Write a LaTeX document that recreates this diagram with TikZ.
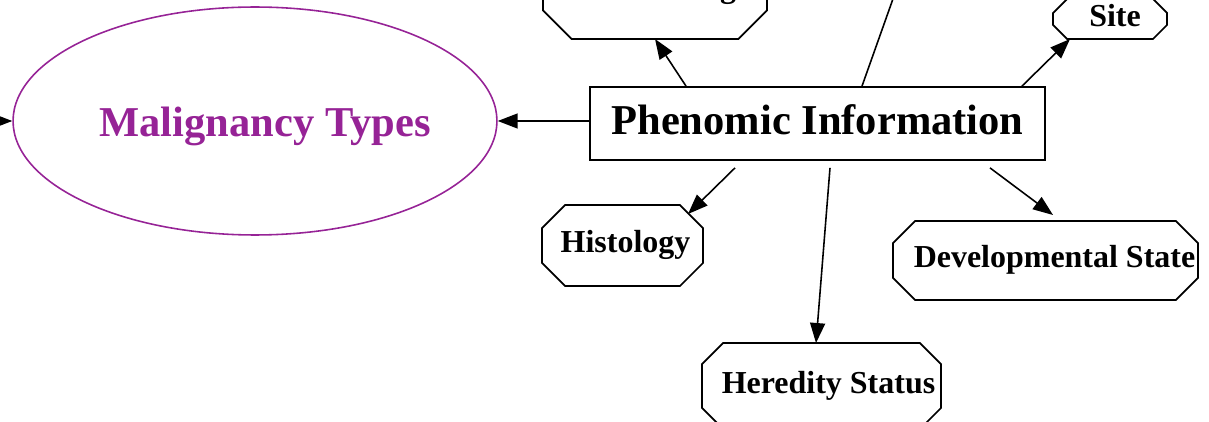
\documentclass[tikz,border=0pt]{standalone}
\usepackage{fontspec}
\setmainfont{Liberation Serif}
\usepackage{tikz}
\usetikzlibrary{arrows.meta}
\usetikzlibrary{shapes.geometric}
\usetikzlibrary{calc,positioning}

\definecolor{roxo}{RGB}{150,35,150}

% contorno octogonal de um no (nome, chanfro)
\newcommand{\octborda}[2]{%
  \draw[line width=1pt] ([xshift=#2]#1.north west) -- ([xshift=-#2]#1.north east)
    -- ([yshift=-#2]#1.north east) -- ([yshift=#2]#1.south east)
    -- ([xshift=-#2]#1.south east) -- ([xshift=#2]#1.south west)
    -- ([yshift=#2]#1.south west) -- ([yshift=-#2]#1.north west) -- cycle;}

\tikzset{
  octnode/.style={rectangle, inner sep=0pt, outer sep=0pt,
    text height=12.5pt, text depth=4pt,
    font=\fontsize{18.2}{22}\selectfont\bfseries},
  bigbox/.style={draw, line width=1pt, rectangle, inner sep=0pt,
    text height=18.3pt, text depth=5.3pt,
    font=\fontsize{24.2}{29}\selectfont\bfseries},
}

\begin{document}
\begin{tikzpicture}[>={Triangle[length=4mm,width=3mm]}, x=0.02cm, y=-0.02cm, line width=0.9pt]

    \useasboundingbox (0,0) rectangle (1209,422);
    \clip (0,0) rectangle (1209,422);

    % nos principais
    \node[bigbox, minimum width=9.1cm, minimum height=1.46cm] (phen) at (817.5,123.5) {Phenomic Information};
    \node[draw=roxo, ellipse, line width=0.9pt, inner sep=0pt, minimum width=9.68cm, minimum height=4.56cm,
          text=roxo, text height=22.6pt, text depth=5pt,
          font=\fontsize{24.2}{29}\selectfont\bfseries] (mal) at (255,121) {\makebox[0pt]{\hspace*{0.4cm}Malignancy Types}};

    % octogonos
    \node[octnode, minimum width=4.48cm, minimum height=1.96cm] (stage) at (655,-10) {\makebox[3.24cm][r]{g}};
    \octborda{stage}{0.57cm}
    \node[octnode, minimum width=2.28cm, minimum height=0.8cm] (site) at (1110,19) {\hspace*{0.2cm}Site};
    \octborda{site}{0.28cm}
    \node[octnode, minimum width=3.22cm, minimum height=1.62cm] (hist) at (622.5,245.5) {\hspace*{0.12cm}Histology};
    \octborda{hist}{0.46cm}
    \node[octnode, minimum width=6.1cm, minimum height=1.58cm] (dev) at (1045.5,260.5) {\hspace*{0.36cm}Developmental State};
    \octborda{dev}{0.44cm}
    \node[octnode, minimum width=4.78cm, minimum height=1.72cm] (her) at (821.5,386) {\hspace*{0.28cm}Heredity Status};
    \octborda{her}{0.42cm}

    % pontas soltas
    \coordinate (lft) at (-40,121);
    \coordinate (up) at (905,-35);

    % arestas
    \draw[->] (lft) -- (mal.west);
    \draw[->] (phen.west |- mal.east) -- (mal.east);
    \draw[->] ([xshift=-2.63cm]phen.north) -- (stage.south);
    \draw[->] ([xshift=0.89cm]phen.north) -- (up);
    \draw[->] ([xshift=4.09cm]phen.north) -- ([xshift=-0.8cm]site.south);
    \draw[->] ([xshift=-1.65cm,yshift=-0.14cm]phen.south) -- ([xshift=-0.3cm,yshift=-0.18cm]hist.north east);
    \draw[->] ([xshift=0.25cm,yshift=-0.14cm]phen.south) -- ([xshift=-0.11cm]her.north);
    \draw[->] ([xshift=3.45cm,yshift=-0.14cm]phen.south) -- ([xshift=0.15cm,yshift=0.12cm]dev.north);

\end{tikzpicture}
\end{document}
